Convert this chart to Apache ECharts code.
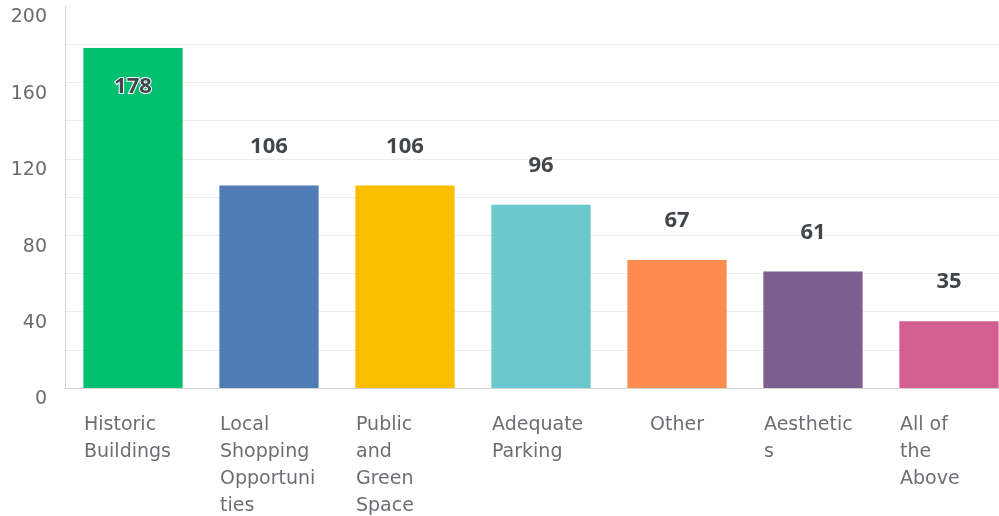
<!DOCTYPE html>
<html>
<head>
<meta charset="utf-8">
<script src="https://cdn.jsdelivr.net/npm/echarts@6/dist/echarts.min.js"></script>
<style>
  html, body { margin: 0; padding: 0; background: #fff; }
  #chart { width: 999px; height: 516px; }
</style>
</head>
<body>
<div id="chart"></div>
<script>
// categories and values
const categories = ['Historic Buildings', 'Local Shopping Opportunities', 'Public and Green Space', 'Adequate Parking', 'Other', 'Aesthetics', 'All of the Above']
// label lines as wrapped in the original
const categoryLabels = ['Historic\nBuildings', 'Local\nShopping\nOpportuni\nties', 'Public\nand\nGreen\nSpace', 'Adequate\nParking', 'Other', 'Aesthetic\ns', 'All of\nthe\nAbove']
const counts = [178, 106, 106, 96, 67, 61, 35]
const barColors = ['#00bf6f', '#507cb6', '#f9be00', '#6bc8cd', '#ff8b4f', '#7d5e90', '#d25f90']
const yTicks = [0, 40, 80, 120, 160, 200]

const font = '"DejaVu Sans", sans-serif'

const chart = echarts.init(document.getElementById('chart'), null, { renderer: 'canvas' })

// the tallest bar carries its label inside
const barData = counts.map((v, i) => {
    const item = { value: v, itemStyle: { color: barColors[i] } }
    if (v > 170) {
        item.label = {
            position: 'insideTop',
            distance: 29,
            textBorderColor: '#fff',
            textBorderWidth: 2
        }
    }
    return item
})

const option = {
    animation: false,
    grid: {
        left: 65,
        right: -18,
        top: 6,
        bottom: 128,
        outerBoundsMode: 'none',
        containLabel: false
    },
    xAxis: {
        type: 'category',
        data: categories,
        axisLine: { lineStyle: { color: '#d3d3d3', width: 1 } },
        axisTick: { show: false },
        axisLabel: {
            interval: 0,
            margin: 24,
            align: 'center',
            formatter: (val, idx) => {
                const lines = categoryLabels[idx].split('\n')
                if (lines.length === 1) return '{c|' + lines[0] + '}'
                return lines.map(l => '{w|' + l + '}').join('\n')
            },
            rich: {
                w: { width: 98, align: 'left', fontFamily: font, fontSize: 19, lineHeight: 27, color: '#6b6e72' },
                c: { align: 'center', fontFamily: font, fontSize: 19, lineHeight: 27, color: '#6b6e72' }
            }
        }
    },
    yAxis: {
        type: 'value',
        min: 0,
        max: 200,
        interval: 20,
        axisLine: { show: true, lineStyle: { color: '#d3d3d3', width: 1 } },
        axisTick: { show: false },
        splitLine: {
            lineStyle: {
                color: ['#ececec', '#ececec', '#ececec', '#ececec', '#ececec', '#ececec', '#ececec', '#ececec', '#ececec', '#ececec', 'transparent'],
                width: 1
            }
        },
        axisLabel: {
            margin: 18,
            fontFamily: font,
            fontSize: 19,
            lineHeight: 23,
            verticalAlign: 'top',
            color: '#6b6b6b',
            formatter: v => yTicks.includes(v) ? String(v) : ''
        }
    },
    series: [{
        type: 'bar',
        data: barData,
        barWidth: '73%',
        label: {
            show: true,
            position: 'top',
            distance: 29,
            fontFamily: '"Noto Sans", sans-serif',
            fontSize: 22,
            lineHeight: 20,
            fontWeight: 'bold',
            color: '#41464c'
        }
    }]
}

chart.setOption(option)
</script>
</body>
</html>
